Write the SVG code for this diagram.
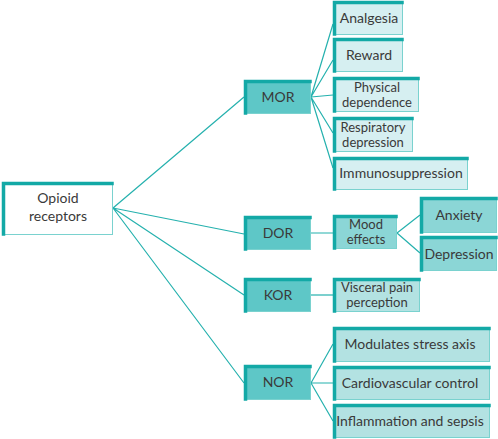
<svg xmlns="http://www.w3.org/2000/svg" width="498" height="439" viewBox="0 0 498 439">
<style>
.bx{stroke:#7ad2cf;stroke-width:1}
.tb{fill:none;stroke:#13a9a6;stroke-width:3.5;stroke-linecap:square}
.tx{font-family:Lato,"Open Sans",sans-serif;font-size:14px;fill:#3a3a3a;text-anchor:middle}
.sm{font-size:13px}
.cn{stroke:#25b1ae;stroke-width:1.2;fill:none}
.f0{fill:#ffffff}.f1{fill:#5ec7c7}.f2{fill:#d6eff1}.f3{fill:#8bd6d6}.f4{fill:#b3e2e2}
</style>
<g id="connectors">
<path class="cn" d="M113 208L244 97M113 208L244 234M113 208L244 295M113 208L244 383"/>
<path class="cn" d="M311 97L333 24M311 97L333 60M311 97L333 95M311 97L333 133M311 97L333 168"/>
<path class="cn" d="M311 233L333 233M397 233L420 215M397 233L420 253"/>
<path class="cn" d="M311 295L333 295"/>
<path class="cn" d="M311 383L333 344M311 383L333 383M311 383L333 421"/>
</g>
<g id="opioid"><rect class="bx f0" x="2.5" y="182.5" width="110" height="52"/><path class="tb" d="M3.5 234V183.5H112"/><text class="tx" x="58" y="203">Opioid</text><text class="tx" x="58" y="221">receptors</text></g>
<g id="mor"><rect class="bx f1" x="244.5" y="80.5" width="66" height="33"/><path class="tb" d="M245.5 113V81.5H310"/><text class="tx" x="278" y="102">MOR</text></g>
<g id="dor"><rect class="bx f1" x="244.5" y="216.5" width="66" height="33"/><path class="tb" d="M245.5 249V217.5H310"/><text class="tx" x="278" y="238">DOR</text></g>
<g id="kor"><rect class="bx f1" x="244.5" y="278.5" width="66" height="33"/><path class="tb" d="M245.5 311V279.5H310"/><text class="tx" x="278" y="300">KOR</text></g>
<g id="nor"><rect class="bx f1" x="244.5" y="365.5" width="66" height="34"/><path class="tb" d="M245.5 399V366.5H310"/><text class="tx" x="278" y="387">NOR</text></g>
<g id="analgesia"><rect class="bx f2" x="333.5" y="1.5" width="69" height="33"/><path class="tb" d="M334.5 34V2.5H402"/><text class="tx" x="369" y="23">Analgesia</text></g>
<g id="reward"><rect class="bx f2" x="333.5" y="38.5" width="69" height="33"/><path class="tb" d="M334.5 71V39.5H402"/><text class="tx" x="369" y="60">Reward</text></g>
<g id="physical"><rect class="bx f2" x="333.5" y="77.5" width="85" height="34"/><path class="tb" d="M334.5 111V78.5H418"/><text class="tx sm" x="377" y="92">Physical</text><text class="tx sm" x="377" y="107">dependence</text></g>
<g id="respiratory"><rect class="bx f2" x="333.5" y="117.5" width="79" height="34"/><path class="tb" d="M334.5 151V118.5H412"/><text class="tx sm" x="373" y="132">Respiratory</text><text class="tx sm" x="373" y="147">depression</text></g>
<g id="immuno"><rect class="bx f2" x="333.5" y="157.5" width="134" height="32"/><path class="tb" d="M334.5 189V158.5H467"/><text class="tx" x="401" y="178">Immunosuppression</text></g>
<g id="mood"><rect class="bx f3" x="333.5" y="215.5" width="63" height="33"/><path class="tb" d="M334.5 248V216.5H396"/><text class="tx sm" x="366" y="229">Mood</text><text class="tx sm" x="366" y="244">effects</text></g>
<g id="anxiety"><rect class="bx f3" x="420.5" y="197.5" width="76" height="35"/><path class="tb" d="M421.5 232V198.5H496"/><text class="tx" x="459" y="220">Anxiety</text></g>
<g id="depression"><rect class="bx f3" x="420.5" y="236.5" width="76" height="34"/><path class="tb" d="M421.5 270V237.5H496"/><text class="tx" x="459" y="259">Depression</text></g>
<g id="visceral"><rect class="bx f4" x="333.5" y="278.5" width="86" height="33"/><path class="tb" d="M334.5 311V279.5H419"/><text class="tx sm" x="377" y="292">Visceral pain</text><text class="tx sm" x="377" y="307">perception</text></g>
<g id="modulates"><rect class="bx f4" x="333.5" y="327.5" width="156" height="34"/><path class="tb" d="M334.5 361V328.5H489"/><text class="tx" x="410" y="349">Modulates stress axis</text></g>
<g id="cardio"><rect class="bx f4" x="333.5" y="366.5" width="156" height="33"/><path class="tb" d="M334.5 399V367.5H489"/><text class="tx" x="410" y="388">Cardiovascular control</text></g>
<g id="inflammation"><rect class="bx f4" x="333.5" y="404.5" width="156" height="33"/><path class="tb" d="M334.5 437V405.5H489"/><text class="tx" x="410" y="426">Inflammation and sepsis</text></g>
</svg>
